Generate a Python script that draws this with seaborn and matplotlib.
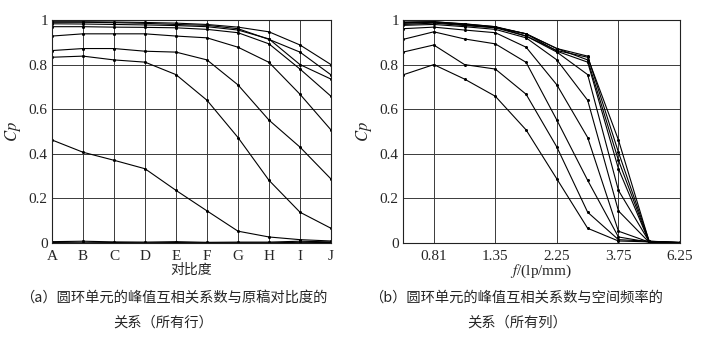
import numpy as np
import pandas as pd
import matplotlib
matplotlib.use("Agg")
import matplotlib.pyplot as plt
import seaborn as sns

# Contrast levels (columns) and spatial-frequency tick labels
contrast = ["A", "B", "C", "D", "E", "F", "G", "H", "I", "J"]
freq_ticks = [1, 3, 5, 7, 9]
freq_labels = ["0.81", "1.35", "2.25", "3.75", "6.25"]

# Peak cross-correlation coefficient Cp, one list per spatial-frequency row (A..J)
row0 = [0.990, 0.990, 0.988, 0.985, 0.980, 0.976, 0.961, 0.913, 0.856, 0.754]
row1 = [0.992, 0.992, 0.991, 0.989, 0.986, 0.980, 0.968, 0.947, 0.888, 0.800]
row2 = [0.983, 0.982, 0.980, 0.978, 0.975, 0.970, 0.955, 0.915, 0.800, 0.735]
row3 = [0.970, 0.970, 0.968, 0.967, 0.965, 0.958, 0.943, 0.893, 0.780, 0.658]
row4 = [0.928, 0.938, 0.938, 0.938, 0.928, 0.920, 0.878, 0.810, 0.667, 0.507]
row5 = [0.863, 0.872, 0.872, 0.860, 0.856, 0.821, 0.709, 0.551, 0.430, 0.287]
row6 = [0.833, 0.838, 0.821, 0.811, 0.755, 0.640, 0.473, 0.281, 0.138, 0.066]
row7 = [0.462, 0.407, 0.371, 0.333, 0.236, 0.144, 0.053, 0.027, 0.015, 0.009]
row8 = [0.006, 0.008, 0.005, 0.004, 0.006, 0.003, 0.004, 0.004, 0.008, 0.005]
row9 = [0.002, 0.001, 0.002, 0.001, 0.002, 0.001, 0.001, 0.001, 0.003, 0.002]
rows = [row0, row1, row2, row3, row4, row5, row6, row7, row8, row9]

sns.set_theme(style="white")
plt.rcParams["font.family"] = ["Liberation Serif", "Noto Sans CJK SC"]
plt.rcParams["mathtext.fontset"] = "stix"

cp = np.array(rows)
n = len(contrast)
long_rows = pd.DataFrame(
    [(r, c, cp[r, c]) for r in range(n) for c in range(n)],
    columns=["row", "col", "cp"],
)

fig = plt.figure(figsize=(7.02, 3.41), dpi=100)
ax1 = fig.add_axes([52 / 702, 1 - 243 / 341, 279 / 702, 223 / 341])
ax2 = fig.add_axes([403 / 702, 1 - 243 / 341, 277 / 702, 223 / 341])

line_kw = dict(estimator=None, color="black", marker="o", markersize=2.2,
               markeredgewidth=0, linewidth=0.8, legend=False)

# (a) every row: Cp versus contrast
sns.lineplot(data=long_rows, x="col", y="cp", units="row", ax=ax1, **line_kw)
# (b) every column: Cp versus spatial frequency
sns.lineplot(data=long_rows, x="row", y="cp", units="col", ax=ax2, **line_kw)

yt = [0, 0.2, 0.4, 0.6, 0.8, 1.0]
ytl = ["0", "0.2", "0.4", "0.6", "0.8", "1"]
for ax in (ax1, ax2):
    ax.set_xlim(0, 9)
    ax.set_ylim(0, 1)
    ax.set_yticks(yt)
    ax.set_yticklabels(ytl, fontsize=11)
    ax.grid(True, color="#3a3a3a", linewidth=0.7)
    ax.set_axisbelow(True)
    ax.tick_params(axis="y", length=0, pad=3)
    ax.tick_params(axis="x", length=0, pad=5)
    for s in ax.spines.values():
        s.set_color("#222222")
        s.set_linewidth(0.8)
    ax.set_ylabel("$Cp$", fontsize=12, labelpad=4)

ax1.set_xticks(range(n))
ax1.set_xticklabels(contrast, fontsize=11)
ax1.set_xlabel("对比度", fontsize=10, family=["Noto Sans CJK SC"], labelpad=0)

ax2.set_xticks(freq_ticks)
ax2.set_xticklabels(freq_labels, fontsize=11)
ax2.set_xlabel("$f$/(lp/mm)", fontsize=11, labelpad=0)

cap_kw = dict(fontsize=10.3, family=["Noto Sans CJK SC"], ha="center", va="center")
fig.text(174 / 702, 1 - 298 / 341, "（a）圆环单元的峰值互相关系数与原稿对比度的", **cap_kw)
fig.text(163 / 702, 1 - 323 / 341, "关系（所有行）", **cap_kw)
fig.text(516 / 702, 1 - 298 / 341, "（b）圆环单元的峰值互相关系数与空间频率的", **cap_kw)
fig.text(517 / 702, 1 - 323 / 341, "关系（所有列）", **cap_kw)

fig.savefig("out.png", dpi=100, facecolor="white")
